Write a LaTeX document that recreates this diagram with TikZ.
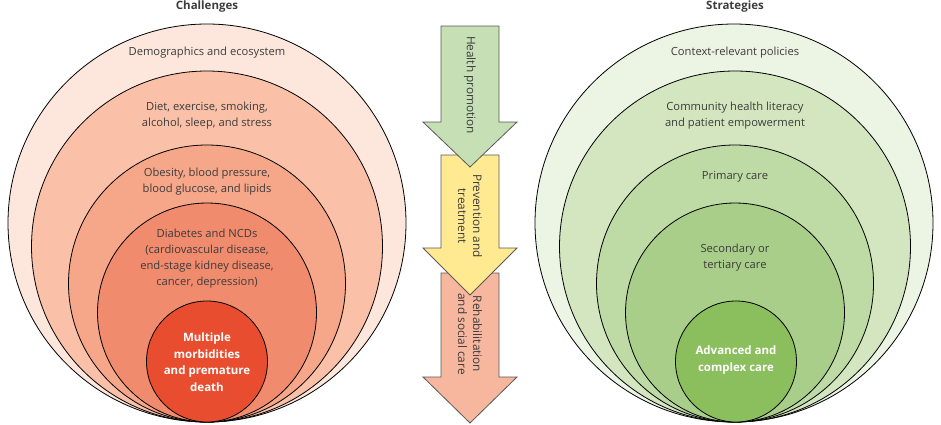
\documentclass[tikz,border=0pt]{standalone}
\usepackage{fontspec}
\setmainfont{Open Sans}
\usetikzlibrary{positioning}
\definecolor{redA}{RGB}{253,231,220}
\definecolor{redB}{RGB}{250,193,168}
\definecolor{redC}{RGB}{247,167,137}
\definecolor{redD}{RGB}{241,139,109}
\definecolor{redE}{RGB}{233,77,47}
\definecolor{grnA}{RGB}{236,244,228}
\definecolor{grnB}{RGB}{212,230,192}
\definecolor{grnC}{RGB}{190,219,166}
\definecolor{grnD}{RGB}{168,206,138}
\definecolor{grnE}{RGB}{139,190,93}
\definecolor{arrG}{RGB}{198,223,180}
\definecolor{arrY}{RGB}{255,234,146}
\definecolor{arrR}{RGB}{247,182,158}
\definecolor{txt}{RGB}{60,60,60}
\tikzset{
    ring/.style={draw=black, line width=0.8pt},
    label/.style={font=\fontsize{11.2}{16}\selectfont, text=txt, align=center},
    core/.style={font=\fontsize{11.5}{16.5}\selectfont\bfseries, text=white, align=center},
    heading/.style={font=\fontsize{11.5}{13}\selectfont\bfseries, text=txt},
    flow/.style={draw=black!65, line width=0.8pt},
    flowtext/.style={font=\fontsize{11.8}{15}\selectfont, text=txt, align=center, rotate=-90}
}
\begin{document}
\begin{tikzpicture}[x=1pt, y=-1pt]
    \useasboundingbox (0,0) rectangle (941,424);
    % challenges
    \filldraw[ring, fill=redA] (207,223) circle (199);
    \filldraw[ring, fill=redB] (207,246.5) circle (175.5);
    \filldraw[ring, fill=redC] (207,283.5) circle (138.5);
    \filldraw[ring, fill=redD] (207,312.5) circle (109.5);
    \filldraw[ring, fill=redE] (207,361.5) circle (60.5);
    \node[heading] (chal) at (207,7) {Challenges};
    \node[label] (demo) at (207,53) {Demographics and ecosystem};
    \node[label] (diet) at (207,116) {Diet, exercise, smoking,\\alcohol, sleep, and stress};
    \node[label] (obes) at (207,182) {Obesity, blood pressure,\\blood glucose, and lipids};
    \node[label] (diab) at (207,259) {Diabetes and NCDs\\(cardiovascular disease,\\end-stage kidney disease,\\cancer, depression)};
    \node[core] (mult) at (207,362) {Multiple\\morbidities\\and premature\\death};
    % strategies
    \filldraw[ring, fill=grnA] (734,223) circle (199);
    \filldraw[ring, fill=grnB] (735,246.5) circle (175.5);
    \filldraw[ring, fill=grnC] (735,283.5) circle (138.5);
    \filldraw[ring, fill=grnD] (735,312.5) circle (109.5);
    \filldraw[ring, fill=grnE] (736,361.5) circle (60.5);
    \node[heading] (stra) at (735,7) {Strategies};
    \node[label] (ctx) at (735,53) {Context-relevant policies};
    \node[label] (comm) at (735,116) {Community health literacy\\and patient empowerment};
    \node[label] (prim) at (735,177) {Primary care};
    \node[label] (sec) at (735,258) {Secondary or\\tertiary care};
    \node[core] (adv) at (736,360) {Advanced and\\complex care};
    % flow arrows
    \filldraw[flow, fill=arrR] (441,273) -- (499,273) -- (499,377) -- (517,377) -- (470,423)
        -- (423,377) -- (441,377) -- cycle;
    \filldraw[flow, fill=arrY] (441,155) -- (499,155) -- (499,248) -- (517,248) -- (470,295)
        -- (423,248) -- (441,248) -- cycle;
    \filldraw[flow, fill=arrG] (441,26) -- (499,26) -- (499,122) -- (517,122) -- (470,167)
        -- (423,122) -- (441,122) -- cycle;
    \node[flowtext] (promo) at (470,85) {Health promotion};
    \node[flowtext] (prev) at (470,216) {Prevention and\\treatment};
    \node[flowtext] (rehab) at (470,334) {Rehabilitation\\and social care};
\end{tikzpicture}
\end{document}
